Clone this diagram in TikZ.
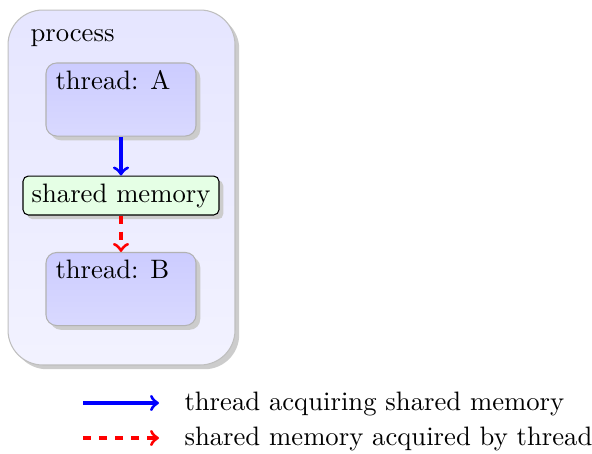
\documentclass[tikz,border=0pt]{standalone}
\usetikzlibrary{shadows,calc}
\begin{document}
\begin{tikzpicture}[x=0.375pt,y=-0.375pt,
  softshadow/.style={drop shadow={shadow xshift=1.6pt,shadow yshift=-1.6pt,fill=black!20,opacity=1}},
  processbox/.style={draw=black!25,rounded corners=13pt,top color=blue!10,bottom color=blue!5,
    minimum width=85.1pt,minimum height=133.1pt,inner sep=0pt,softshadow},
  threadbox/.style={draw=black!30,rounded corners=4pt,top color=blue!20,bottom color=blue!15,
    minimum width=56.25pt,minimum height=27.4pt,inner sep=0pt,softshadow},
  membox/.style={draw=black,rounded corners=2pt,fill=green!10,
    minimum width=73.5pt,minimum height=14.6pt,inner sep=0pt,softshadow},
  acquire/.style={->,blue,very thick},
  acquired/.style={->,red,very thick,dashed},
  caption/.style={anchor=base west,inner sep=0pt}]
  \useasboundingbox (0,0) rectangle (592,453);

  % process container and its threads
  \node[processbox] (proc) at (121.5,187.5) {};
  \node[caption] (proclabel) at (30,42) {process};

  \node[threadbox] (ta) at (121,99.5) {};
  \node[caption] (talabel) at (55,89) {thread: A};

  \node[membox] (sm) at (121,195.5) {shared memory};

  \node[threadbox] (tb) at (121,289) {};
  \node[caption] (tblabel) at (55,278) {thread: B};

  \draw[acquire] (ta) -- (sm);
  \draw[acquired] (sm) -- (tb);

  % legend
  \coordinate (l1a) at (83,403);
  \coordinate (l1b) at (159,403);
  \coordinate (l2a) at (83,438);
  \coordinate (l2b) at (159,438);
  \draw[acquire] (l1a) -- (l1b);
  \draw[acquired] (l2a) -- (l2b);
  \node[caption] (leg1) at (184,410) {thread acquiring shared memory};
  \node[caption] (leg2) at (184,445) {shared memory acquired by thread};
\end{tikzpicture}
\end{document}
